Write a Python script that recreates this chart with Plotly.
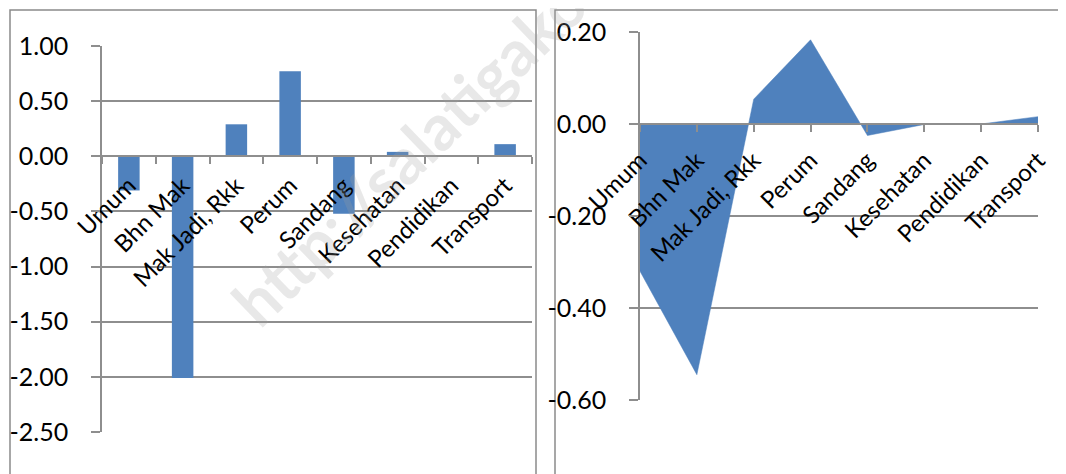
import plotly.graph_objects as go

categories = ["Umum", "Bhn Mak", "Mak Jadi, Rkk", "Perum", "Sandang",
              "Kesehatan", "Pendidikan", "Transport"]
left_values = [-0.31, -2.01, 0.29, 0.77, -0.52, 0.04, 0.01, 0.11]
right_values = [-0.32, -0.545, 0.054, 0.183, -0.025, -0.001, 0.0, 0.016]
left_ticks = [1.0, 0.5, 0.0, -0.5, -1.0, -1.5, -2.0, -2.5]
right_ticks = [0.2, 0.0, -0.2, -0.4, -0.6]
left_tick_labels = [f"{v:.2f}" for v in left_ticks]
right_tick_labels = [f"{v:.2f}" for v in right_ticks]

W, H = 1066, 474
OFF = 8  # page body margin
BLUE = "#4F81BD"
GRID = "#8e8e8e"
FONT = "Lato"

def py(pix):
    return 1 - (pix - OFF) / H

def px(pix):
    return (pix - OFF) / W

left_range = [-2.5, 1.0]
right_range = [-0.6, 0.2]
left_dom = [py(432), py(46)]
right_dom = [py(400), py(32)]

def zero_pos(dom, rng):
    return dom[0] + (0 - rng[0]) / (rng[1] - rng[0]) * (dom[1] - dom[0])

fig = go.Figure()
fig.add_trace(go.Bar(x=categories, y=left_values, marker_color=BLUE,
                     marker_line_width=0, xaxis="x", yaxis="y"))
fig.add_trace(go.Scatter(x=categories, y=right_values, mode="lines",
                         fill="tozeroy", fillcolor=BLUE,
                         line=dict(color=BLUE, width=0.5),
                         xaxis="x2", yaxis="y2"))

yax_common = dict(showgrid=True, gridcolor=GRID, gridwidth=1.5,
                  showline=True, linecolor=GRID, linewidth=1.5,
                  ticks="outside", ticklen=9, tickcolor=GRID, tickwidth=1.5,
                  zeroline=False, automargin=False,
                  tickfont=dict(family=FONT, size=25, color="black"),
                  ticklabelstandoff=18, fixedrange=True)
xax_common = dict(showgrid=False, showline=True, linecolor=GRID, linewidth=1.5,
                  ticks="outside", ticklen=7, tickcolor=GRID, tickwidth=1.5,
                  tickangle=-45, zeroline=False, anchor="free", automargin=False,
                  tickfont=dict(family=FONT, size=24, color="black"),
                  ticklabelstandoff=5,
                  fixedrange=True)

fig.update_layout(
    width=W, height=H,
    margin=dict(l=0, r=0, t=0, b=0, autoexpand=False),
    paper_bgcolor="white", plot_bgcolor="rgba(0,0,0,0)",
    showlegend=False, bargap=0.6,
    xaxis=dict(domain=[px(102), px(532)], tickson="boundaries",
               position=zero_pos(left_dom, left_range), **xax_common),
    yaxis=dict(domain=left_dom, range=left_range, tickvals=left_ticks,
               ticktext=left_tick_labels, anchor="x", **yax_common),
    xaxis2=dict(domain=[px(640), px(1038)], range=[0, 7],
                position=zero_pos(right_dom, right_range), **xax_common),
    yaxis2=dict(domain=right_dom, range=right_range, tickvals=right_ticks,
                ticktext=right_tick_labels, anchor="x2", **yax_common),
)

border = dict(color="#8a8a8a", width=1.5)
fig.add_shape(type="rect", xref="paper", yref="paper",
              x0=px(10), x1=px(536), y0=-0.2, y1=py(10), line=border,
              layer="below")
fig.add_shape(type="rect", xref="paper", yref="paper",
              x0=px(555), x1=1.2, y0=-0.2, y1=py(10), line=border,
              layer="below")

fig.add_annotation(text="<b>http://salatigakota.bps.go.id</b>",
                   xref="paper", yref="paper", x=px(526), y=py(40),
                   xanchor="center", yanchor="middle", textangle=-44,
                   showarrow=False,
                   font=dict(family=FONT, size=64, color="rgba(160,160,160,0.24)"))

fig.write_html("out.html", config={"displayModeBar": False})
